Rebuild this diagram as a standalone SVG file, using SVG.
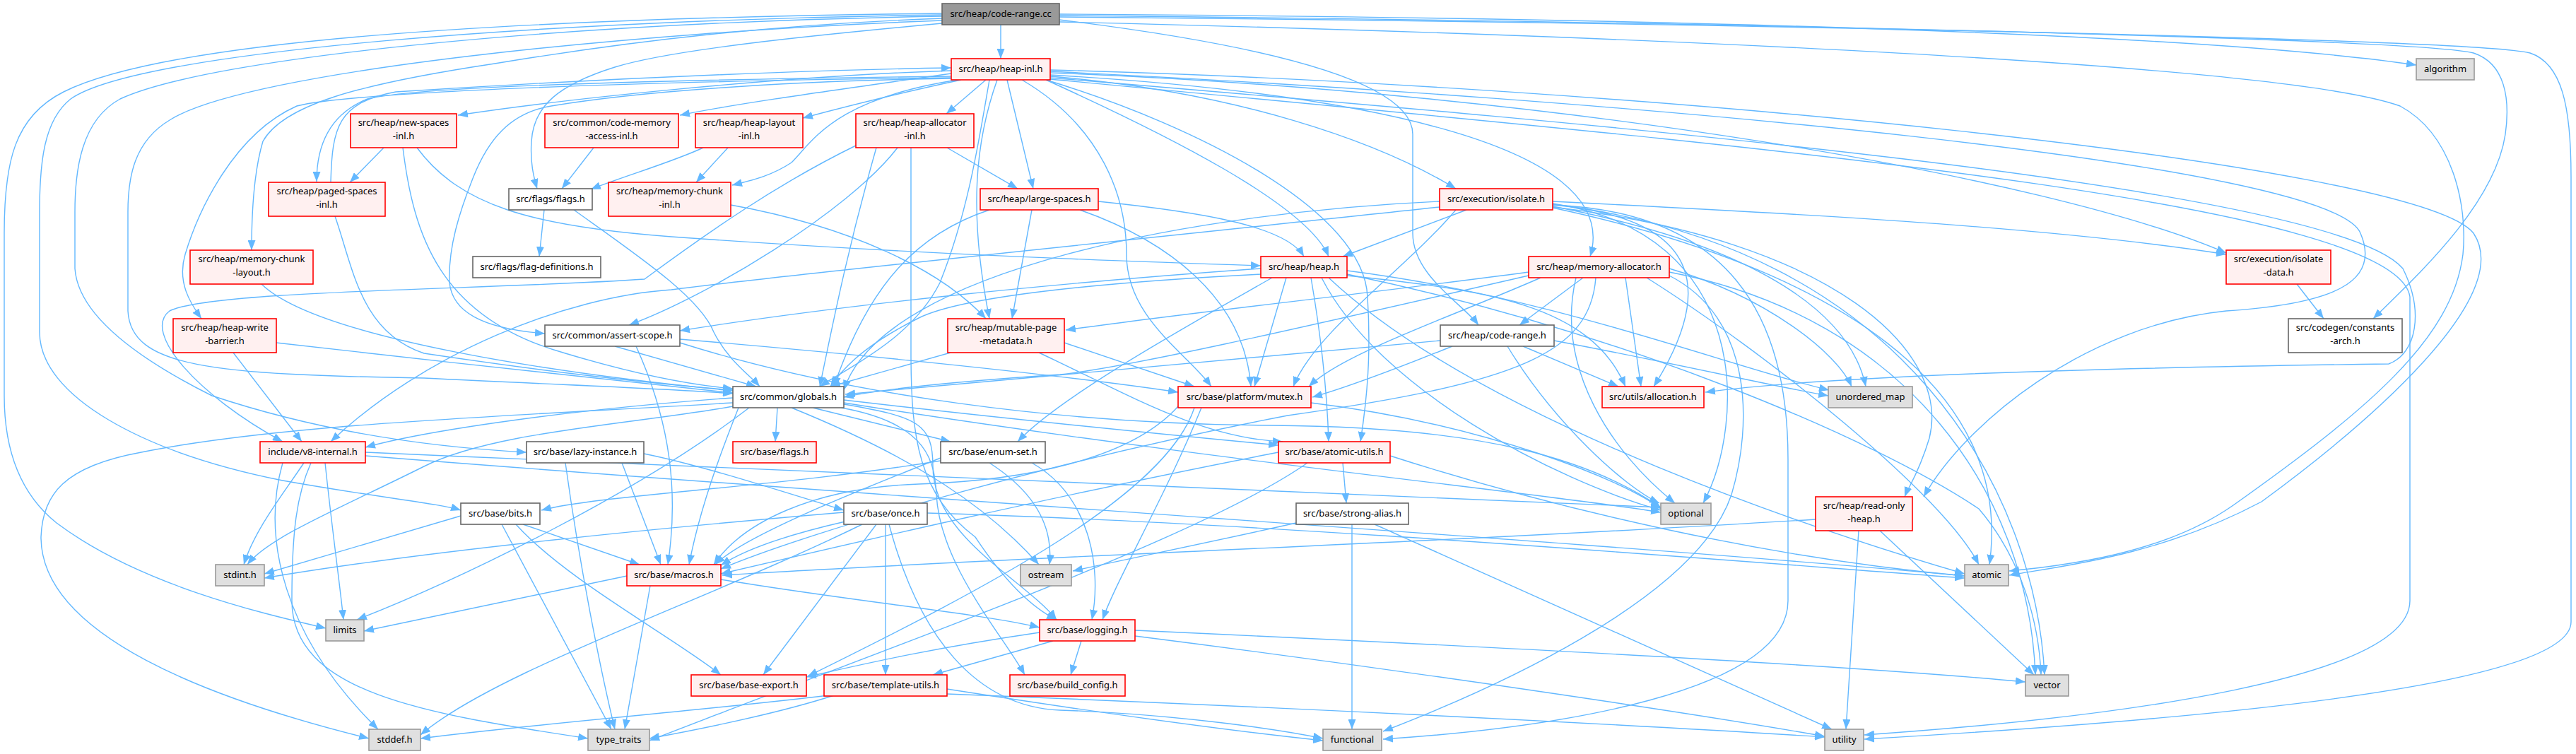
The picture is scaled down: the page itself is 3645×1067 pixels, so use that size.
<svg xmlns="http://www.w3.org/2000/svg" width="3645" height="1067" viewBox="0 0 3645 1067">
<defs>
<marker id="ah" markerUnits="userSpaceOnUse" markerWidth="14" markerHeight="11" viewBox="0 0 14 11" refX="14" refY="5.5" orient="auto"><path d="M0,0 L14,5.5 L0,11 z" fill="#63b8ff"/></marker>
</defs>
<style>
.e{fill:none;stroke:#63b8ff;stroke-width:1.4;marker-end:url(#ah)}
.nr rect{fill:#fff0f0;stroke:#ff0000;stroke-width:1.6}
.nw rect{fill:#ffffff;stroke:#666666;stroke-width:1.6}
.ng rect{fill:#e0e0e0;stroke:#999999;stroke-width:1.6}
.nm rect{fill:#999999;stroke:#666666;stroke-width:1.6}
text{font-family:"Noto Sans","DejaVu Sans",sans-serif;font-size:13px;text-anchor:middle;fill:#000000}
</style>
<rect width="3645" height="1067" fill="#ffffff"/>
<g id="edges">
<path class="e" d="M1416,35 L1416,83"/>
<path class="e" d="M1499,20 C2300,25 3100,45 3419,92"/>
<path class="e" d="M1499,28 C1760,60 1999,110 1999,190 L1999,330 C1999,390 2070,430 2092,460"/>
<path class="e" d="M1499,22 C2400,30 3420,55 3500,75 C3545,90 3552,140 3545,190 C3530,290 3420,390 3358,451"/>
<path class="e" d="M1499,31 C2300,50 3230,90 3396,150 C3470,190 3492,290 3485,360 C3470,480 3350,580 3160,715 C3060,785 2920,800 2843,808"/>
<path class="e" d="M1499,24 C2400,32 3500,55 3580,75 C3625,90 3638,150 3638,250 L3638,880 C3638,980 3000,1025 2638,1046"/>
<path class="e" d="M1333,19 C800,25 250,50 90,130 C20,165 6,230 6,330 L6,560 C6,640 30,700 80,740 C200,830 380,870 461,889"/>
<path class="e" d="M1333,21 C800,28 200,70 100,140 C62,170 56,230 56,300 L56,470 C56,560 200,640 400,680 C540,705 620,712 652,722"/>
<path class="e" d="M1333,23 C800,32 300,80 170,140 C115,170 106,240 106,300 L106,380 C110,440 180,500 300,560 C480,620 650,635 745,640"/>
<path class="e" d="M1333,29 C900,45 350,100 240,170 C190,200 181,250 181,300 L181,440 C185,520 300,530 600,535 C800,545 950,550 1037,557"/>
<path class="e" d="M1333,26 C1100,35 912,55 700,90 C500,120 400,150 372,200 C360,240 356,300 356,354"/>
<path class="e" d="M1333,33 C1150,50 950,70 870,95 C790,120 755,150 752,200 C750,230 755,250 760,267"/>
<path class="e" d="M1346,100 C1100,108 800,140 648,163"/>
<path class="e" d="M1346,104 C1200,125 1050,145 962,163"/>
<path class="e" d="M1360,113 C1280,130 1200,150 1136,167"/>
<path class="e" d="M1395,113 L1339,161"/>
<path class="e" d="M1355,113 C1180,140 1150,200 1120,230 C1090,250 1060,256 1036,262"/>
<path class="e" d="M1425,113 L1462,267"/>
<path class="e" d="M1486,108 C1750,130 1950,200 2060,267"/>
<path class="e" d="M1480,113 C1650,190 1850,290 1880,363"/>
<path class="e" d="M1486,106 C1900,130 2300,200 2250,363"/>
<path class="e" d="M1486,103 C2200,130 2900,250 3150,358"/>
<path class="e" d="M1486,101 C2300,140 3300,230 3340,330 C3370,400 3300,430 3150,440 C2950,460 2780,600 2722,703"/>
<path class="e" d="M1486,99 C2300,120 3420,230 3500,330 C3560,420 3350,600 3200,710 C3050,790 2900,803 2843,814"/>
<path class="e" d="M1486,110 C2200,170 3300,260 3400,380 C3430,440 3420,500 3380,515 C3000,520 2600,530 2413,555"/>
<path class="e" d="M1486,112 C2400,200 3390,280 3410,420 L3410,850 C3410,960 3000,1015 2638,1040"/>
<path class="e" d="M1346,108 C1000,112 600,120 520,140 C470,160 448,200 448,257"/>
<path class="e" d="M1346,110 C900,115 500,130 420,150 C330,190 280,300 262,360 C250,400 270,430 285,451"/>
<path class="e" d="M1346,111 C1100,115 900,130 780,150 C720,160 690,200 670,250 C650,300 634,350 636,400 C640,440 680,465 771,472"/>
<path class="e" d="M1411,113 C1380,200 1370,300 1400,451"/>
<path class="e" d="M1446,113 C1560,180 1594,280 1594,360 C1594,450 1680,500 1714,547"/>
<path class="e" d="M1400,113 C1385,200 1370,300 1330,400 C1290,480 1200,520 1160,547"/>
<path class="e" d="M1480,113 C1700,180 1930,300 1935,420 C1940,500 1935,560 1925,625"/>
<path class="e" d="M468,258 C470,180 478,145 560,130 C900,108 1200,98 1346,96"/>
<path class="e" d="M474,306 C500,380 510,470 600,500 C800,530 950,545 1037,552"/>
<path class="e" d="M543,209 L495,258"/>
<path class="e" d="M570,209 C585,330 620,450 800,500 C900,530 980,545 1037,550"/>
<path class="e" d="M590,209 C650,290 750,320 950,335 C1300,360 1600,370 1784,376"/>
<path class="e" d="M840,209 L795,267"/>
<path class="e" d="M1030,209 L985,258"/>
<path class="e" d="M995,209 C950,230 880,250 836,268"/>
<path class="e" d="M1340,209 L1440,267"/>
<path class="e" d="M1240,209 C1200,350 1180,450 1160,547"/>
<path class="e" d="M1270,209 C1200,300 1000,420 890,460"/>
<path class="e" d="M1289,209 L1289,500 C1289,620 1300,700 1380,760 C1420,820 1460,860 1495,877"/>
<path class="e" d="M1213,205 C1100,260 1000,330 912,395 C700,410 300,410 240,440 C200,470 280,560 400,625"/>
<path class="e" d="M770,297 L763,363"/>
<path class="e" d="M812,297 C900,360 990,420 1010,470 C1030,510 1060,530 1075,547"/>
<path class="e" d="M1034,290 C1200,320 1330,380 1395,451"/>
<path class="e" d="M1554,285 C1700,300 1820,320 1845,363"/>
<path class="e" d="M1460,297 L1432,451"/>
<path class="e" d="M1528,297 C1650,340 1760,420 1770,547"/>
<path class="e" d="M1400,297 C1300,330 1230,400 1180,547"/>
<path class="e" d="M2075,297 L1900,363"/>
<path class="e" d="M2197,285 C2500,300 2900,320 3150,360"/>
<path class="e" d="M2037,285 C1700,300 1250,380 1194,552"/>
<path class="e" d="M2060,297 C1990,380 1860,470 1830,547"/>
<path class="e" d="M2197,290 C2420,310 2420,420 2340,547"/>
<path class="e" d="M2197,292 C2500,350 2620,450 2640,547"/>
<path class="e" d="M2197,294 C2600,380 2850,550 2815,799"/>
<path class="e" d="M2197,288 C2480,330 2470,600 2410,712"/>
<path class="e" d="M2197,289 C2700,350 2880,700 2893,955"/>
<path class="e" d="M2197,290 C2450,300 2530,450 2530,650 L2530,850 C2530,980 2200,1030 1957,1046"/>
<path class="e" d="M2037,293 C1600,340 1100,390 950,410 C800,420 600,500 468,625"/>
<path class="e" d="M2197,293 C2600,340 2760,500 2730,620 C2715,670 2700,690 2695,703"/>
<path class="e" d="M1784,388 C1550,400 1360,420 1300,450 C1240,480 1200,510 1175,547"/>
<path class="e" d="M1820,393 L1775,547"/>
<path class="e" d="M1906,390 C2100,410 2250,430 2300,547"/>
<path class="e" d="M1906,383 C2200,420 2450,520 2588,552"/>
<path class="e" d="M1906,388 C2300,470 2650,620 2800,720 C2860,790 2885,880 2888,955"/>
<path class="e" d="M1870,393 C1950,550 2200,680 2350,722"/>
<path class="e" d="M1880,393 C2100,600 2600,760 2780,812"/>
<path class="e" d="M1855,393 C1870,480 1878,560 1880,625"/>
<path class="e" d="M1800,393 C1700,450 1500,560 1440,625"/>
<path class="e" d="M1784,380 C1500,400 1200,430 962,468"/>
<path class="e" d="M2240,393 L2150,460"/>
<path class="e" d="M2300,393 L2322,547"/>
<path class="e" d="M2163,385 C1900,420 1700,440 1508,467"/>
<path class="e" d="M2180,393 C2050,450 1900,500 1852,547"/>
<path class="e" d="M2163,390 C1900,450 1600,520 1500,530 C1350,540 1250,550 1194,562"/>
<path class="e" d="M2230,393 C2200,520 2280,640 2370,712"/>
<path class="e" d="M2330,393 C2500,500 2750,700 2800,799"/>
<path class="e" d="M2362,385 C2700,450 2870,700 2880,955"/>
<path class="e" d="M2362,380 C2500,420 2600,500 2620,547"/>
<path class="e" d="M2258,393 C2250,500 2148,542 1822,588 C1500,650 1150,750 1020,805"/>
<path class="e" d="M2362,390 C2480,450 2480,600 2450,700 C2400,850 2100,980 1957,1035"/>
<path class="e" d="M2038,482 C1700,510 1400,540 1196,558"/>
<path class="e" d="M2055,490 C1980,520 1900,550 1857,562"/>
<path class="e" d="M2155,490 L2290,547"/>
<path class="e" d="M2199,482 C2400,520 2500,545 2587,560"/>
<path class="e" d="M2133,490 C2200,600 2300,690 2348,712"/>
<path class="e" d="M1345,499 L1175,547"/>
<path class="e" d="M1506,485 L1690,547"/>
<path class="e" d="M1470,499 C1600,560 1700,620 1815,625"/>
<path class="e" d="M1037,563 C800,580 600,610 517,633"/>
<path class="e" d="M1100,577 L1097,625"/>
<path class="e" d="M1150,577 L1345,625"/>
<path class="e" d="M1194,566 C1400,590 1650,615 1809,630"/>
<path class="e" d="M1194,572 C1300,590 1320,600 1320,660 C1320,760 1450,820 1495,877"/>
<path class="e" d="M1045,577 C1020,640 990,720 975,799"/>
<path class="e" d="M1190,577 C1320,600 1322,660 1325,700 C1330,800 1420,900 1450,955"/>
<path class="e" d="M1120,577 C1300,650 1400,720 1470,799"/>
<path class="e" d="M1037,575 C900,600 700,610 600,660 C480,720 380,760 350,799"/>
<path class="e" d="M1060,577 C900,700 650,820 505,877"/>
<path class="e" d="M1037,570 C700,590 400,600 200,640 C90,660 60,700 58,760 C58,900 300,990 522,1045"/>
<path class="e" d="M1194,570 C1700,650 2200,700 2350,725"/>
<path class="e" d="M430,655 C400,700 360,750 345,799"/>
<path class="e" d="M460,655 C470,750 480,820 486,877"/>
<path class="e" d="M400,655 C370,760 400,900 535,1032"/>
<path class="e" d="M440,655 C420,700 413,750 413,850 C413,980 600,1010 832,1045"/>
<path class="e" d="M517,645 C1200,700 2300,770 2780,815"/>
<path class="e" d="M517,640 C1200,670 1900,700 2350,718"/>
<path class="e" d="M880,655 L935,799"/>
<path class="e" d="M911,642 C1000,660 1120,700 1194,722"/>
<path class="e" d="M800,655 C820,800 850,950 870,1032"/>
<path class="e" d="M1460,655 C1540,700 1560,800 1545,877"/>
<path class="e" d="M1331,648 C1200,700 1050,760 1012,799"/>
<path class="e" d="M1400,655 C1470,700 1490,750 1485,799"/>
<path class="e" d="M1331,652 C1100,690 850,700 766,722"/>
<path class="e" d="M1967,645 C2200,720 2500,790 2780,815"/>
<path class="e" d="M1850,655 C1700,760 1300,900 919,1048"/>
<path class="e" d="M1809,640 C1500,700 1200,770 1020,812"/>
<path class="e" d="M1900,655 L1905,712"/>
<path class="e" d="M652,730 L374,812"/>
<path class="e" d="M710,742 L865,1032"/>
<path class="e" d="M740,742 L905,799"/>
<path class="e" d="M730,742 C800,820 950,900 1020,955"/>
<path class="e" d="M1220,742 C1000,850 700,950 595,1040"/>
<path class="e" d="M1194,725 C900,750 600,780 374,818"/>
<path class="e" d="M1312,726 C1800,740 2400,790 2780,818"/>
<path class="e" d="M1258,742 C1300,900 1380,1000 1500,1005 C1650,1010 1800,1030 1872,1045"/>
<path class="e" d="M1240,742 L1080,955"/>
<path class="e" d="M1253,742 L1253,955"/>
<path class="e" d="M1196,738 C1100,760 1050,780 1020,800"/>
<path class="e" d="M1913,742 L1913,1032"/>
<path class="e" d="M1945,742 L2592,1032"/>
<path class="e" d="M1834,740 C1700,770 1600,790 1518,808"/>
<path class="e" d="M2569,735 C2000,770 1400,790 1022,814"/>
<path class="e" d="M2630,751 L2612,1032"/>
<path class="e" d="M2660,751 L2878,955"/>
<path class="e" d="M887,815 L515,893"/>
<path class="e" d="M1020,820 C1200,850 1400,870 1471,888"/>
<path class="e" d="M920,829 L884,1032"/>
<path class="e" d="M1471,895 C1300,920 1200,945 1141,958"/>
<path class="e" d="M1490,907 L1320,955"/>
<path class="e" d="M1530,907 L1515,955"/>
<path class="e" d="M1606,892 C2000,910 2600,940 2866,965"/>
<path class="e" d="M1606,900 C2000,950 2400,1010 2582,1042"/>
<path class="e" d="M1180,984 C1100,1010 1000,1030 919,1045"/>
<path class="e" d="M1172,984 C1000,1005 750,1025 595,1045"/>
<path class="e" d="M1340,975 C1500,1000 1700,1030 1872,1048"/>
<path class="e" d="M1340,982 C1800,1000 2300,1025 2582,1043"/>
<path class="e" d="M1700,577 C1650,700 1580,820 1560,877"/>
<path class="e" d="M1690,577 C1650,700 1400,830 1143,957"/>
<path class="e" d="M1667,575 C1600,650 1450,680 1300,685 C1150,690 1050,740 1010,799"/>
<path class="e" d="M1855,570 C2100,600 2300,680 2350,720"/>
<path class="e" d="M330,499 L427,625"/>
<path class="e" d="M391,485 C600,510 900,540 1037,556"/>
<path class="e" d="M370,402 C450,480 800,530 1037,553"/>
<path class="e" d="M3250,402 L3288,451"/>
<path class="e" d="M870,490 L1070,547"/>
<path class="e" d="M900,490 C950,600 960,700 945,799"/>
<path class="e" d="M962,480 C1200,500 1500,530 1667,555"/>
<path class="e" d="M962,485 C1200,560 1500,600 1800,602 C2100,604 2250,650 2350,718"/>
</g>
<g id="n_main" class="nm"><rect x="1333" y="5" width="166" height="30"/><text x="1416" y="24">src/heap/code-range.cc</text></g>
<g id="n_heap_inl" class="nr"><rect x="1346" y="83" width="140" height="30"/><text x="1416" y="102">src/heap/heap-inl.h</text></g>
<g id="n_new_spaces" class="nr"><rect x="496" y="161" width="150" height="48"/><text x="571" y="178">src/heap/new-spaces</text><text x="571" y="197">-inl.h</text></g>
<g id="n_code_mem" class="nr"><rect x="771" y="161" width="189" height="48"/><text x="865.5" y="178">src/common/code-memory</text><text x="865.5" y="197">-access-inl.h</text></g>
<g id="n_heap_layout" class="nr"><rect x="984" y="161" width="152" height="48"/><text x="1060" y="178">src/heap/heap-layout</text><text x="1060" y="197">-inl.h</text></g>
<g id="n_heap_alloc" class="nr"><rect x="1211" y="161" width="167" height="48"/><text x="1294.5" y="178">src/heap/heap-allocator</text><text x="1294.5" y="197">-inl.h</text></g>
<g id="n_paged" class="nr"><rect x="380" y="258" width="165" height="48"/><text x="462.5" y="275">src/heap/paged-spaces</text><text x="462.5" y="294">-inl.h</text></g>
<g id="n_flags" class="nw"><rect x="720" y="267" width="118" height="30"/><text x="779" y="286">src/flags/flags.h</text></g>
<g id="n_mc_inl" class="nr"><rect x="861" y="258" width="173" height="48"/><text x="947.5" y="275">src/heap/memory-chunk</text><text x="947.5" y="294">-inl.h</text></g>
<g id="n_large" class="nr"><rect x="1387" y="267" width="167" height="30"/><text x="1470.5" y="286">src/heap/large-spaces.h</text></g>
<g id="n_isolate" class="nr"><rect x="2037" y="267" width="160" height="30"/><text x="2117" y="286">src/execution/isolate.h</text></g>
<g id="n_algorithm" class="ng"><rect x="3419" y="83" width="82" height="30"/><text x="3460" y="102">algorithm</text></g>
<g id="n_mc_layout" class="nr"><rect x="269" y="354" width="174" height="48"/><text x="356" y="371">src/heap/memory-chunk</text><text x="356" y="390">-layout.h</text></g>
<g id="n_flagdefs" class="nw"><rect x="669" y="363" width="181" height="30"/><text x="759.5" y="382">src/flags/flag-definitions.h</text></g>
<g id="n_heap_h" class="nr"><rect x="1784" y="363" width="122" height="30"/><text x="1845" y="382">src/heap/heap.h</text></g>
<g id="n_mem_alloc" class="nr"><rect x="2163" y="363" width="199" height="30"/><text x="2262.5" y="382">src/heap/memory-allocator.h</text></g>
<g id="n_iso_data" class="nr"><rect x="3150" y="354" width="148" height="48"/><text x="3224" y="371">src/execution/isolate</text><text x="3224" y="390">-data.h</text></g>
<g id="n_hwb" class="nr"><rect x="245" y="451" width="146" height="48"/><text x="318" y="468">src/heap/heap-write</text><text x="318" y="487">-barrier.h</text></g>
<g id="n_assert" class="nw"><rect x="771" y="460" width="191" height="30"/><text x="866.5" y="479">src/common/assert-scope.h</text></g>
<g id="n_mpm" class="nr"><rect x="1341" y="451" width="165" height="48"/><text x="1423.5" y="468">src/heap/mutable-page</text><text x="1423.5" y="487">-metadata.h</text></g>
<g id="n_code_range_h" class="nw"><rect x="2038" y="460" width="161" height="30"/><text x="2118.5" y="479">src/heap/code-range.h</text></g>
<g id="n_constants" class="nw"><rect x="3238" y="451" width="161" height="48"/><text x="3318.5" y="468">src/codegen/constants</text><text x="3318.5" y="487">-arch.h</text></g>
<g id="n_globals" class="nw"><rect x="1037" y="547" width="157" height="30"/><text x="1115.5" y="566">src/common/globals.h</text></g>
<g id="n_mutex" class="nr"><rect x="1667" y="547" width="188" height="30"/><text x="1761" y="566">src/base/platform/mutex.h</text></g>
<g id="n_allocation" class="nr"><rect x="2267" y="547" width="144" height="30"/><text x="2339" y="566">src/utils/allocation.h</text></g>
<g id="n_unordered_map" class="ng"><rect x="2587" y="547" width="119" height="30"/><text x="2646.5" y="566">unordered_map</text></g>
<g id="n_v8int" class="nr"><rect x="368" y="625" width="149" height="30"/><text x="442.5" y="644">include/v8-internal.h</text></g>
<g id="n_lazy" class="nw"><rect x="745" y="625" width="166" height="30"/><text x="828" y="644">src/base/lazy-instance.h</text></g>
<g id="n_bflags" class="nr"><rect x="1037" y="625" width="118" height="30"/><text x="1096" y="644">src/base/flags.h</text></g>
<g id="n_enumset" class="nw"><rect x="1331" y="625" width="148" height="30"/><text x="1405" y="644">src/base/enum-set.h</text></g>
<g id="n_atomic_utils" class="nr"><rect x="1809" y="625" width="158" height="30"/><text x="1888" y="644">src/base/atomic-utils.h</text></g>
<g id="n_bits" class="nw"><rect x="652" y="712" width="112" height="30"/><text x="708" y="731">src/base/bits.h</text></g>
<g id="n_once" class="nw"><rect x="1194" y="712" width="118" height="30"/><text x="1253" y="731">src/base/once.h</text></g>
<g id="n_strong" class="nw"><rect x="1834" y="712" width="159" height="30"/><text x="1913.5" y="731">src/base/strong-alias.h</text></g>
<g id="n_optional" class="ng"><rect x="2350" y="712" width="71" height="30"/><text x="2385.5" y="731">optional</text></g>
<g id="n_ro_heap" class="nr"><rect x="2569" y="703" width="137" height="48"/><text x="2637.5" y="720">src/heap/read-only</text><text x="2637.5" y="739">-heap.h</text></g>
<g id="n_stdint" class="ng"><rect x="305" y="799" width="69" height="30"/><text x="339.5" y="818">stdint.h</text></g>
<g id="n_macros" class="nr"><rect x="887" y="799" width="133" height="30"/><text x="953.5" y="818">src/base/macros.h</text></g>
<g id="n_ostream" class="ng"><rect x="1444" y="799" width="72" height="30"/><text x="1480" y="818">ostream</text></g>
<g id="n_atomic" class="ng"><rect x="2780" y="799" width="62" height="30"/><text x="2811" y="818">atomic</text></g>
<g id="n_limits" class="ng"><rect x="461" y="877" width="54" height="30"/><text x="488" y="896">limits</text></g>
<g id="n_logging" class="nr"><rect x="1471" y="877" width="135" height="30"/><text x="1538.5" y="896">src/base/logging.h</text></g>
<g id="n_base_export" class="nr"><rect x="978" y="955" width="163" height="30"/><text x="1059.5" y="974">src/base/base-export.h</text></g>
<g id="n_template_utils" class="nr"><rect x="1166" y="955" width="174" height="30"/><text x="1253" y="974">src/base/template-utils.h</text></g>
<g id="n_build_config" class="nr"><rect x="1429" y="955" width="163" height="30"/><text x="1510.5" y="974">src/base/build_config.h</text></g>
<g id="n_vector" class="ng"><rect x="2866" y="955" width="61" height="30"/><text x="2896.5" y="974">vector</text></g>
<g id="n_stddef" class="ng"><rect x="522" y="1032" width="73" height="30"/><text x="558.5" y="1051">stddef.h</text></g>
<g id="n_type_traits" class="ng"><rect x="832" y="1032" width="87" height="30"/><text x="875.5" y="1051">type_traits</text></g>
<g id="n_functional" class="ng"><rect x="1872" y="1032" width="83" height="30"/><text x="1913.5" y="1051">functional</text></g>
<g id="n_utility" class="ng"><rect x="2582" y="1032" width="55" height="30"/><text x="2609.5" y="1051">utility</text></g>
</svg>
